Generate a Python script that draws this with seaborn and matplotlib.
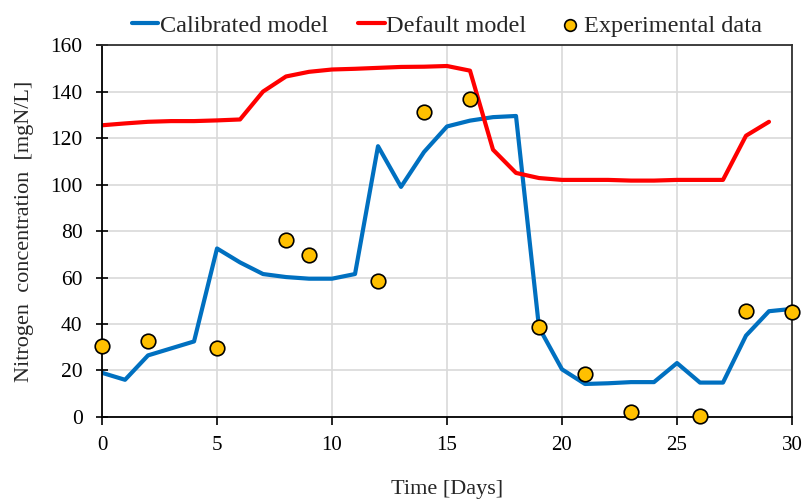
import numpy as np
import pandas as pd
import matplotlib
matplotlib.use("Agg")
import matplotlib.pyplot as plt
import seaborn as sns

# data
days_cal = list(range(0, 31))
calibrated = [19, 16, 26.5, 29.5, 32.5, 72.5, 66.5, 61.5, 60.2, 59.5, 59.5,
              61.5, 116.5, 99, 114, 125, 127.5, 129, 129.5, 38.5, 20.5,
              14.2, 14.5, 15, 15, 23.2, 14.8, 14.8, 35, 45.5, 46.5]

days_def = list(range(0, 30))
default = [125.5, 126.3, 127, 127.3, 127.3, 127.6, 128, 140, 146.5, 148.5,
           149.5, 149.8, 150.2, 150.6, 150.7, 151, 149, 115, 105, 102.8,
           102, 102, 102, 101.7, 101.7, 102, 102, 102, 121, 127]

days_exp = [0, 2, 5, 8, 9, 12, 14, 16, 19, 21, 23, 26, 28, 30]
experimental = [30.5, 32.5, 29.5, 76, 69.5, 58.5, 131, 137, 38.5, 18.5, 2, 0.5, 45.5, 45]

sns.set_style("whitegrid")
plt.rcParams["font.family"] = ["Liberation Serif", "DejaVu Serif"]

cal_df = pd.DataFrame({"day": days_cal, "value": calibrated})
def_df = pd.DataFrame({"day": days_def, "value": default})
exp_df = pd.DataFrame({"day": days_exp, "value": experimental})

fig = plt.figure(figsize=(8.06, 5.01), dpi=100)
ax = fig.add_axes([0.1266, 0.1677, 0.856, 0.7423])

sns.lineplot(data=cal_df, x="day", y="value", ax=ax, color="#0070C0",
             linewidth=3, label="Calibrated model")
sns.lineplot(data=def_df, x="day", y="value", ax=ax, color="#FF0000",
             linewidth=3, label="Default model")
sns.scatterplot(data=exp_df, x="day", y="value", ax=ax, color="#FFC000",
                edgecolor="black", linewidth=1.2, s=110, zorder=5,
                label="Experimental data", clip_on=False)

ax.set_xlim(0, 30)
ax.set_ylim(0, 160)
ax.set_xticks(range(0, 31, 5))
ax.set_yticks(range(0, 161, 20))
ax.grid(True, color="#D9D9D9", linewidth=1.2)
ax.set_axisbelow(True)

for side in ["left", "bottom"]:
    ax.spines[side].set_color("black")
    ax.spines[side].set_linewidth(1.3)
for side in ["top", "right"]:
    ax.spines[side].set_color("#303030")
    ax.spines[side].set_linewidth(1.3)

ax.tick_params(axis="y", direction="inout", length=8, width=1.2, labelsize=15.5,
               colors="black", left=True, pad=10)
ax.tick_params(axis="x", direction="out", length=6, width=1.2, labelsize=15,
               colors="black", bottom=True, pad=8)

ax.set_xlabel("Time [Days]", fontsize=16, labelpad=18)
ax.set_ylabel("Nitrogen  concentration  [mgN/L]", fontsize=16, labelpad=12)

ax.legend(loc="lower center", bbox_to_anchor=(0.5, 0.99), ncol=3, frameon=False,
          fontsize=17.5, handlelength=1.1, handletextpad=0.05, columnspacing=1.25,
          borderaxespad=0.1, markerscale=0.8)

fig.savefig("out.png", dpi=100)
